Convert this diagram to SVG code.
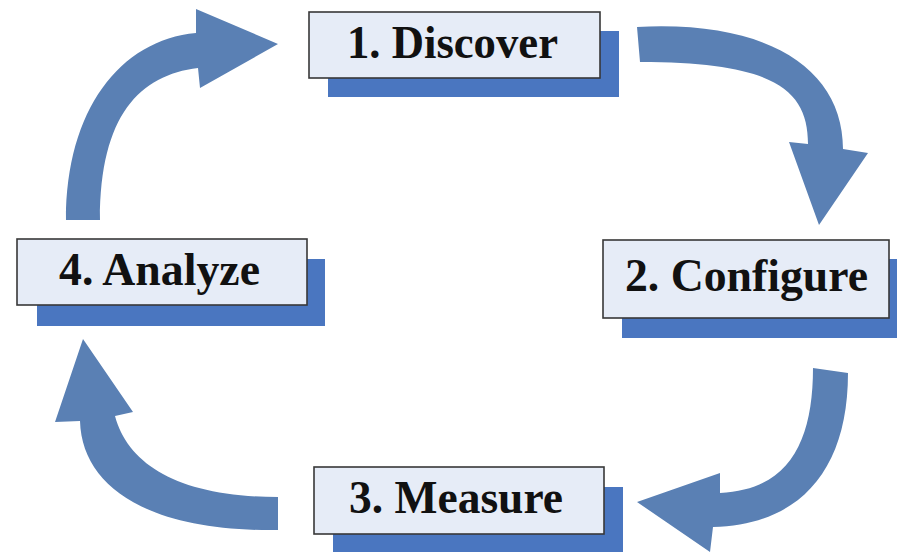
<svg xmlns="http://www.w3.org/2000/svg" width="897" height="552" viewBox="0 0 897 552">
  <style>
    .shadow { fill: #4A76C0; }
    .box { fill: #E6ECF7; stroke: #383838; stroke-width: 1.6; }
    .label { font-family: "Liberation Serif", "Times New Roman", serif; font-weight: bold; font-size: 46px; fill: #111; }
    .arrow { fill: #5A80B4; }
  </style>

  <!-- curved block arrows forming the cycle -->
  <g id="connectors">
    <path class="arrow" d="M637,27 C770,20 843,70 843,149 L868,153 L819,225 L789,142 L808,144 C808,90 775,62 640,62 Z"/>
    <path class="arrow" d="M813,368 L848,373 C848,470 800,525 713,527 L710,552 L637,502 L720,473 L720,493 C790,490 813,440 813,368 Z"/>
    <path class="arrow" d="M278,497 L278,530 C150,532 82,488 80,421 L55,422 L83,339 L133,412 L115,416 C128,465 180,497 278,497 Z"/>
    <path class="arrow" d="M66,220 C66,110 120,40 196,33 L196,9 L278,44 L200,88 L198,68 C140,75 100,115 100,220 Z"/>
  </g>

  <g id="discover">
    <rect class="shadow" x="328" y="31" width="291" height="66"/>
    <rect class="box" x="309" y="12" width="291" height="66"/>
    <text class="label" x="347" y="58" textLength="211" lengthAdjust="spacingAndGlyphs">1. Discover</text>
  </g>

  <g id="configure">
    <rect class="shadow" x="622" y="259" width="286" height="79"/>
    <rect class="box" x="603" y="240" width="286" height="78"/>
    <text class="label" x="625" y="291" textLength="243" lengthAdjust="spacingAndGlyphs">2. Configure</text>
  </g>

  <g id="measure">
    <rect class="shadow" x="333" y="487" width="290" height="67"/>
    <rect class="box" x="314" y="467" width="290" height="67"/>
    <text class="label" x="349" y="513" textLength="214" lengthAdjust="spacingAndGlyphs">3. Measure</text>
  </g>

  <g id="analyze">
    <rect class="shadow" x="37" y="259" width="288" height="67"/>
    <rect class="box" x="17" y="239" width="290" height="66"/>
    <text class="label" x="59" y="285" textLength="201" lengthAdjust="spacingAndGlyphs">4. Analyze</text>
  </g>
</svg>
